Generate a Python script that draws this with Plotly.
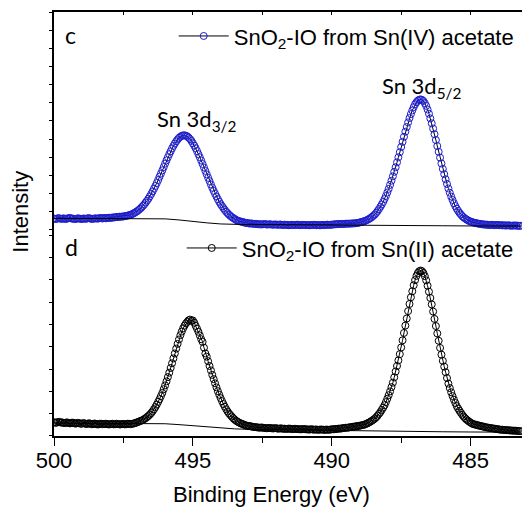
import plotly.graph_objects as go

# ---------------- data ----------------
# binding energy grid, 0.05 eV steps from 500.00 down to 483.20
energy = [round(500.0 - 0.05 * i, 2) for i in range(337)]

sn4_intensity = [
    0.63, 0.60, 0.61, 0.65, 0.64, 0.61, 0.62, 0.64, 0.60, 0.62, 0.63, 0.66, 0.65, 0.62, 0.62, 0.60, 0.61, 0.64, 0.63, 0.61,
    0.60, 0.63, 0.62, 0.61, 0.64, 0.65, 0.63, 0.61, 0.61, 0.63, 0.64, 0.62, 0.63, 0.66, 0.65, 0.63, 0.66, 0.64, 0.65, 0.67,
    0.67, 0.66, 0.69, 0.68, 0.70, 0.71, 0.71, 0.73, 0.72, 0.74, 0.74, 0.76, 0.77, 0.79, 0.81, 0.83, 0.86, 0.90, 0.94, 0.99,
    1.04, 1.10, 1.16, 1.24, 1.32, 1.41, 1.51, 1.61, 1.72, 1.85, 1.98, 2.12, 2.27, 2.42, 2.58, 2.75, 2.93, 3.10, 3.28, 3.46,
    3.65, 3.83, 4.00, 4.17, 4.33, 4.49, 4.63, 4.76, 4.88, 4.98, 5.07, 5.13, 5.18, 5.21, 5.21, 5.19, 5.15, 5.08, 5.00, 4.90,
    4.77, 4.64, 4.50, 4.34, 4.17, 4.00, 3.82, 3.63, 3.44, 3.25, 3.06, 2.87, 2.69, 2.50, 2.32, 2.15, 1.99, 1.84, 1.69, 1.55,
    1.42, 1.31, 1.20, 1.10, 1.00, 0.92, 0.84, 0.77, 0.71, 0.66, 0.61, 0.56, 0.52, 0.49, 0.47, 0.45, 0.43, 0.41, 0.39, 0.38,
    0.37, 0.35, 0.36, 0.34, 0.34, 0.33, 0.33, 0.31, 0.32, 0.30, 0.31, 0.32, 0.32, 0.30, 0.30, 0.31, 0.31, 0.29, 0.29, 0.30,
    0.30, 0.28, 0.29, 0.30, 0.28, 0.27, 0.29, 0.28, 0.28, 0.26, 0.27, 0.28, 0.28, 0.27, 0.27, 0.29, 0.28, 0.26, 0.27, 0.28,
    0.28, 0.27, 0.27, 0.26, 0.26, 0.27, 0.27, 0.28, 0.28, 0.26, 0.27, 0.26, 0.26, 0.28, 0.27, 0.27, 0.28, 0.29, 0.28, 0.28,
    0.29, 0.30, 0.31, 0.31, 0.32, 0.33, 0.32, 0.33, 0.33, 0.33, 0.34, 0.35, 0.34, 0.35, 0.35, 0.36, 0.36, 0.37, 0.38, 0.39,
    0.41, 0.43, 0.45, 0.47, 0.50, 0.53, 0.57, 0.61, 0.66, 0.72, 0.78, 0.85, 0.94, 1.04, 1.15, 1.27, 1.40, 1.54, 1.70, 1.87,
    2.06, 2.26, 2.48, 2.71, 2.95, 3.20, 3.45, 3.72, 4.00, 4.28, 4.57, 4.85, 5.13, 5.41, 5.67, 5.92, 6.16, 6.38, 6.58, 6.76,
    6.92, 7.03, 7.12, 7.17, 7.19, 7.16, 7.10, 6.98, 6.83, 6.63, 6.40, 6.14, 5.87, 5.58, 5.27, 4.95, 4.62, 4.30, 3.98, 3.66,
    3.36, 3.07, 2.79, 2.53, 2.28, 2.05, 1.84, 1.65, 1.47, 1.31, 1.17, 1.05, 0.94, 0.85, 0.76, 0.69, 0.63, 0.58, 0.53, 0.49,
    0.46, 0.43, 0.41, 0.39, 0.37, 0.36, 0.34, 0.33, 0.32, 0.30, 0.30, 0.29, 0.29, 0.27, 0.28, 0.28, 0.28, 0.26, 0.27, 0.27,
    0.27, 0.26, 0.26, 0.25, 0.26, 0.24, 0.25, 0.25, 0.25, 0.23, 0.24, 0.24, 0.25, 0.23, 0.24, 0.22, 0.23,
]

sn2_intensity = [
    0.62, 0.59, 0.60, 0.63, 0.63, 0.60, 0.61, 0.58, 0.58, 0.61, 0.60, 0.57, 0.57, 0.60, 0.59, 0.56, 0.56, 0.59, 0.58, 0.55,
    0.55, 0.58, 0.57, 0.54, 0.54, 0.57, 0.56, 0.53, 0.53, 0.56, 0.55, 0.52, 0.52, 0.55, 0.55, 0.53, 0.53, 0.55, 0.54, 0.52,
    0.52, 0.54, 0.55, 0.52, 0.53, 0.55, 0.54, 0.52, 0.52, 0.54, 0.54, 0.52, 0.53, 0.55, 0.55, 0.53, 0.54, 0.56, 0.57, 0.59,
    0.62, 0.64, 0.67, 0.69, 0.72, 0.76, 0.80, 0.85, 0.90, 0.96, 1.03, 1.11, 1.20, 1.30, 1.41, 1.53, 1.65, 1.79, 1.93, 2.10,
    2.27, 2.45, 2.64, 2.84, 3.05, 3.26, 3.48, 3.70, 3.92, 4.13, 4.33, 4.52, 4.68, 4.83, 4.95, 5.05, 5.12, 5.19, 5.22, 5.16,
    5.18, 5.08, 4.94, 4.81, 4.67, 4.51, 4.34, 4.22, 3.96, 3.70, 3.56, 3.35, 3.14, 2.94, 2.74, 2.55, 2.36, 2.18, 2.01, 1.85,
    1.70, 1.56, 1.43, 1.31, 1.20, 1.10, 1.01, 0.94, 0.87, 0.80, 0.74, 0.69, 0.65, 0.61, 0.58, 0.55, 0.53, 0.50, 0.48, 0.46,
    0.45, 0.44, 0.43, 0.41, 0.40, 0.40, 0.39, 0.38, 0.37, 0.38, 0.38, 0.36, 0.36, 0.35, 0.35, 0.36, 0.36, 0.34, 0.34, 0.35,
    0.35, 0.33, 0.33, 0.34, 0.34, 0.32, 0.33, 0.32, 0.32, 0.33, 0.33, 0.31, 0.31, 0.32, 0.32, 0.31, 0.31, 0.30, 0.30, 0.31,
    0.31, 0.30, 0.30, 0.29, 0.29, 0.30, 0.30, 0.28, 0.29, 0.29, 0.28, 0.28, 0.29, 0.29, 0.28, 0.27, 0.29, 0.28, 0.28, 0.29,
    0.30, 0.30, 0.31, 0.31, 0.32, 0.33, 0.33, 0.34, 0.35, 0.36, 0.37, 0.37, 0.38, 0.39, 0.40, 0.41, 0.42, 0.43, 0.44, 0.45,
    0.46, 0.47, 0.49, 0.50, 0.52, 0.55, 0.58, 0.61, 0.65, 0.69, 0.73, 0.78, 0.84, 0.91, 0.99, 1.07, 1.17, 1.27, 1.38, 1.52,
    1.67, 1.83, 2.00, 2.19, 2.39, 2.63, 2.89, 3.14, 3.39, 3.67, 3.97, 4.29, 4.62, 4.95, 5.27, 5.60, 5.92, 6.22, 6.49, 6.76,
    6.99, 7.18, 7.31, 7.39, 7.42, 7.39, 7.31, 7.17, 6.98, 6.74, 6.47, 6.19, 5.90, 5.58, 5.25, 4.93, 4.60, 4.27, 3.95, 3.65,
    3.37, 3.11, 2.86, 2.60, 2.35, 2.15, 1.96, 1.79, 1.63, 1.48, 1.34, 1.23, 1.13, 1.04, 0.95, 0.87, 0.80, 0.74, 0.69, 0.64,
    0.60, 0.56, 0.53, 0.52, 0.50, 0.48, 0.47, 0.45, 0.44, 0.42, 0.41, 0.39, 0.38, 0.37, 0.36, 0.35, 0.34, 0.33, 0.32, 0.31,
    0.30, 0.29, 0.28, 0.28, 0.27, 0.27, 0.26, 0.26, 0.25, 0.25, 0.24, 0.24, 0.24, 0.23, 0.23, 0.22, 0.22,
]

bg_energy = [500.0, 497.0, 496.5, 496.0, 495.5, 495.0, 494.5, 494.0, 493.5,
             493.0, 492.0, 490.0, 488.0, 487.0, 486.5, 486.0, 485.0, 484.0, 483.2]
sn4_background = [0.64, 0.64, 0.63, 0.61, 0.55, 0.46, 0.39, 0.33, 0.31,
                  0.29, 0.29, 0.28, 0.28, 0.26, 0.24, 0.23, 0.22, 0.21, 0.21]
sn2_background = [0.58, 0.55, 0.56, 0.55, 0.51, 0.46, 0.41, 0.36, 0.32,
                  0.30, 0.28, 0.25, 0.23, 0.21, 0.20, 0.19, 0.18, 0.17, 0.17]

x_ticks = [500, 495, 490, 485]
series_names = ["SnO<sub>2</sub>-IO from Sn(IV) acetate",
                "SnO<sub>2</sub>-IO from Sn(II) acetate"]
peak_labels = ["Sn 3d<sub>3/2</sub>", "Sn 3d<sub>5/2</sub>"]
panel_labels = ["c", "d"]

# ---------------- figure ----------------
BLUE = "rgb(28,28,205)"
ARIAL = "Liberation Sans, Arial, sans-serif"
CAL = "Lato, Carlito, Calibri, sans-serif"

fig = go.Figure()

fig.add_trace(go.Scatter(
    x=energy, y=sn4_intensity, mode="lines+markers", name=series_names[0],
    line=dict(color="black", width=1),
    marker=dict(symbol="circle-open", size=7, color=BLUE, line=dict(width=1, color=BLUE)),
    xaxis="x2", yaxis="y2", legend="legend"))
fig.add_trace(go.Scatter(
    x=bg_energy, y=sn4_background, mode="lines", showlegend=False,
    line=dict(color="black", width=1), xaxis="x2", yaxis="y2"))

fig.add_trace(go.Scatter(
    x=energy, y=sn2_intensity, mode="lines+markers", name=series_names[1],
    line=dict(color="black", width=1),
    marker=dict(symbol="circle-open", size=7, color="black", line=dict(width=1, color="black")),
    xaxis="x", yaxis="y", legend="legend2"))
fig.add_trace(go.Scatter(
    x=bg_energy, y=sn2_background, mode="lines", showlegend=False,
    line=dict(color="black", width=1), xaxis="x", yaxis="y"))

xr = [500, 483.15]
split = 0.486

fig.update_layout(
    width=522, height=510,
    margin=dict(l=54, r=0, t=12, b=74),
    paper_bgcolor="white", plot_bgcolor="white",
    showlegend=True,
    xaxis=dict(domain=[0, 1], range=xr, anchor="y", tickvals=x_ticks,
               ticks="outside", ticklen=8, tickwidth=1.3, tickcolor="black",
               ticklabelstandoff=-4,
               showline=True, linecolor="black", linewidth=1.5,
               showgrid=False, zeroline=False,
               minor=dict(dtick=2.5, tick0=500, ticks="outside", ticklen=5,
                          tickwidth=1.3, tickcolor="black"),
               tickfont=dict(family=ARIAL, size=22, color="black")),
    yaxis=dict(domain=[0, split], range=[0, 9.24], anchor="x", dtick=1, tick0=0,
               ticks="outside", ticklen=3, tickcolor="black", showticklabels=False,
               showline=True, linecolor="black", linewidth=1.5,
               showgrid=False, zeroline=False),
    xaxis2=dict(domain=[0, 1], range=xr, anchor="y2", side="top", dtick=2.5, tick0=500,
                ticks="inside", ticklen=3, tickcolor="black", showticklabels=False,
                showline=True, linecolor="black", linewidth=1.5,
                showgrid=False, zeroline=False),
    yaxis2=dict(domain=[split, 1], range=[0, 12.0], anchor="x2", dtick=1, tick0=0,
                ticks="outside", ticklen=3, tickcolor="black", showticklabels=False,
                showline=True, linecolor="black", linewidth=1.5,
                showgrid=False, zeroline=False),
    legend=dict(x=0.993, y=0.943, xanchor="right", yanchor="middle",
                bgcolor="rgba(0,0,0,0)", itemwidth=50,
                font=dict(family=ARIAL, size=22, color="black")),
    legend2=dict(x=0.993, y=0.443, xanchor="right", yanchor="middle",
                 bgcolor="rgba(0,0,0,0)", itemwidth=50,
                 font=dict(family=ARIAL, size=22, color="black")),
)

ann = []
ann.append(dict(text=panel_labels[0], x=0.019, y=0.946, xref="paper", yref="paper",
                xanchor="left", yanchor="middle", showarrow=False,
                font=dict(family=CAL, size=23, color="black")))
ann.append(dict(text=panel_labels[1], x=0.019, y=0.446, xref="paper", yref="paper",
                xanchor="left", yanchor="middle", showarrow=False,
                font=dict(family=CAL, size=23, color="black")))
ann.append(dict(text=peak_labels[0], x=0.216, y=0.745, xref="paper", yref="paper",
                xanchor="left", yanchor="middle", showarrow=False,
                font=dict(family=CAL, size=22, color="black")))
ann.append(dict(text=peak_labels[1], x=0.697, y=0.822, xref="paper", yref="paper",
                xanchor="left", yanchor="middle", showarrow=False,
                font=dict(family=CAL, size=22, color="black")))
ann.append(dict(text="Binding Energy (eV)", x=0.4637, y=-0.171, xref="paper", yref="paper",
                xanchor="center", yanchor="bottom", showarrow=False,
                font=dict(family=ARIAL, size=22, color="black")))
ann.append(dict(text="Intensity", x=-0.0705, y=0.529, xref="paper", yref="paper",
                xanchor="center", yanchor="middle", showarrow=False, textangle=-90,
                font=dict(family=ARIAL, size=22, color="black")))
fig.update_layout(annotations=ann)

# remove the default 8px page margin so the figure sits at the window's corner
fig.write_html("out.html",
               config={"displayModeBar": False},
               post_script="document.body.style.margin='0';document.body.style.overflow='hidden';")
